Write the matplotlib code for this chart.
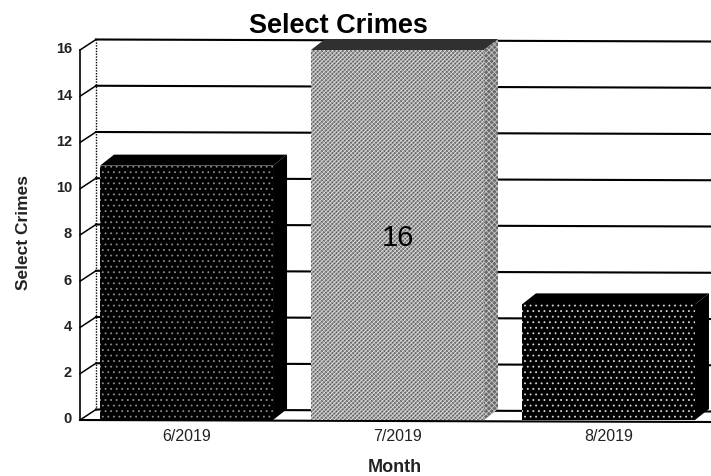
import matplotlib
matplotlib.use('Agg')
import matplotlib.pyplot as plt

plt.rcParams['font.family'] = ['Liberation Sans', 'DejaVu Sans']
plt.rcParams['hatch.linewidth'] = 0.6

months = ['6/2019', '7/2019', '8/2019']
crimes = [11, 16, 5]
y_ticks = [0, 2, 4, 6, 8, 10, 12, 14, 16]
bar_labels = ['', '16', '']

W, H = 711, 476
fig = plt.figure(figsize=(W / 100, H / 100), dpi=100)

# front plane of the fake 3d box, in pixels
left, right, y0, y16 = 80, 711, 420, 50
ax = fig.add_axes([left / W, 1 - y0 / H, (right - left) / W, (y0 - y16) / H])
ax.set_xlim(-0.505, 2.486)
ax.set_ylim(0, 16)
ax.axis('off')

px_x = (2.486 + 0.505) / (right - left)
px_y = 16 / (y0 - y16)

# wall depth and bar depth
wall_dx, wall_dy = 16 * px_x, 10.5 * px_y
bar_dx, bar_dy = 14 * px_x, 11 * px_y
x_left = -0.505
x_right = 2.486
tilt = 2 * px_y  # the scan is a little crooked, lines drop to the right
lw = 1.5

# gridlines and the left wall
for t in y_ticks:
    ax.plot([x_left, x_left + wall_dx], [t, t + wall_dy], color='black', lw=1.1, clip_on=False, zorder=1)
    ax.plot([x_left + wall_dx, x_right], [t + wall_dy, t + wall_dy - tilt], color='black', lw=lw, clip_on=False, zorder=1)
    ax.text(x_left - 8 * px_x, t + 0.03, str(t), ha='right', va='center', fontsize=10.5, fontweight='bold', color='#222222')
ax.plot([x_left, x_left], [0, 16], color='black', lw=1.2, clip_on=False, zorder=1)
ax.plot([x_left + wall_dx] * 2, [wall_dy, 16 + wall_dy], color='black', lw=1, ls=(0, (1, 1)), clip_on=False, zorder=1)
ax.plot([x_left, x_right], [0, -tilt], color='black', lw=lw, clip_on=False, zorder=1)

# bars: front face with dither, then the top and the side
width = 173 * px_x
styles = [('black', '...', '#8c8c8c', 'black', 'black'),
          ('#9c9c9c', None, None, '#303030', '#6a6a6a'),
          ('black', '...', '#d8d8d8', 'black', 'black')]

for i, v in enumerate(crimes):
    face, dots, dot_c, top_c, side_c = styles[i]
    x0 = i - width / 2
    x1 = i + width / 2
    ax.fill([x0, x0 + bar_dx, x1 + bar_dx, x1], [v, v + bar_dy, v + bar_dy, v], color=top_c, lw=0, zorder=3, clip_on=False)
    ax.fill([x1, x1 + bar_dx, x1 + bar_dx, x1], [0, bar_dy, v + bar_dy, v], color=side_c, lw=0, zorder=3, clip_on=False)
    if dots:
        ax.bar(i, v, width=width, color=face, edgecolor=dot_c, hatch=dots, lw=0, zorder=3)
    else:
        # woven grey: dark threads one way, light threads the other
        ax.bar(i, v, width=width, color=face, edgecolor='#4a4a4a', hatch='\\\\\\\\\\\\\\\\', lw=0, zorder=3)
        ax.bar(i, v, width=width, color='none', edgecolor='#eeeeee', hatch='////////', lw=0, zorder=3)
        ax.fill([x1, x1 + bar_dx, x1 + bar_dx, x1], [0, bar_dy, v + bar_dy, v], facecolor='none', edgecolor='#c8c8c8', hatch='xxxxxx', lw=0, zorder=3, clip_on=False)
    if bar_labels[i]:
        ax.text(i, v / 2 - 0.15, bar_labels[i], ha='center', va='center', fontsize=21, color='black', zorder=5)
    ax.text(i, -0.72, months[i], ha='center', va='center', fontsize=11.5, color='#222222')

fig.text(338 / W, 1 - 26 / H, 'Select Crimes', ha='center', va='center', fontsize=19.5, fontweight='bold')
fig.text(395 / W, 1 - 467 / H, 'Month', ha='center', va='center', fontsize=13, fontweight='bold', color='#222222')
fig.text(23 / W, 1 - 233 / H, 'Select Crimes', ha='center', va='center', rotation=90, fontsize=12.5, fontweight='bold', color='#222222')

fig.savefig('out.png', dpi=100)
